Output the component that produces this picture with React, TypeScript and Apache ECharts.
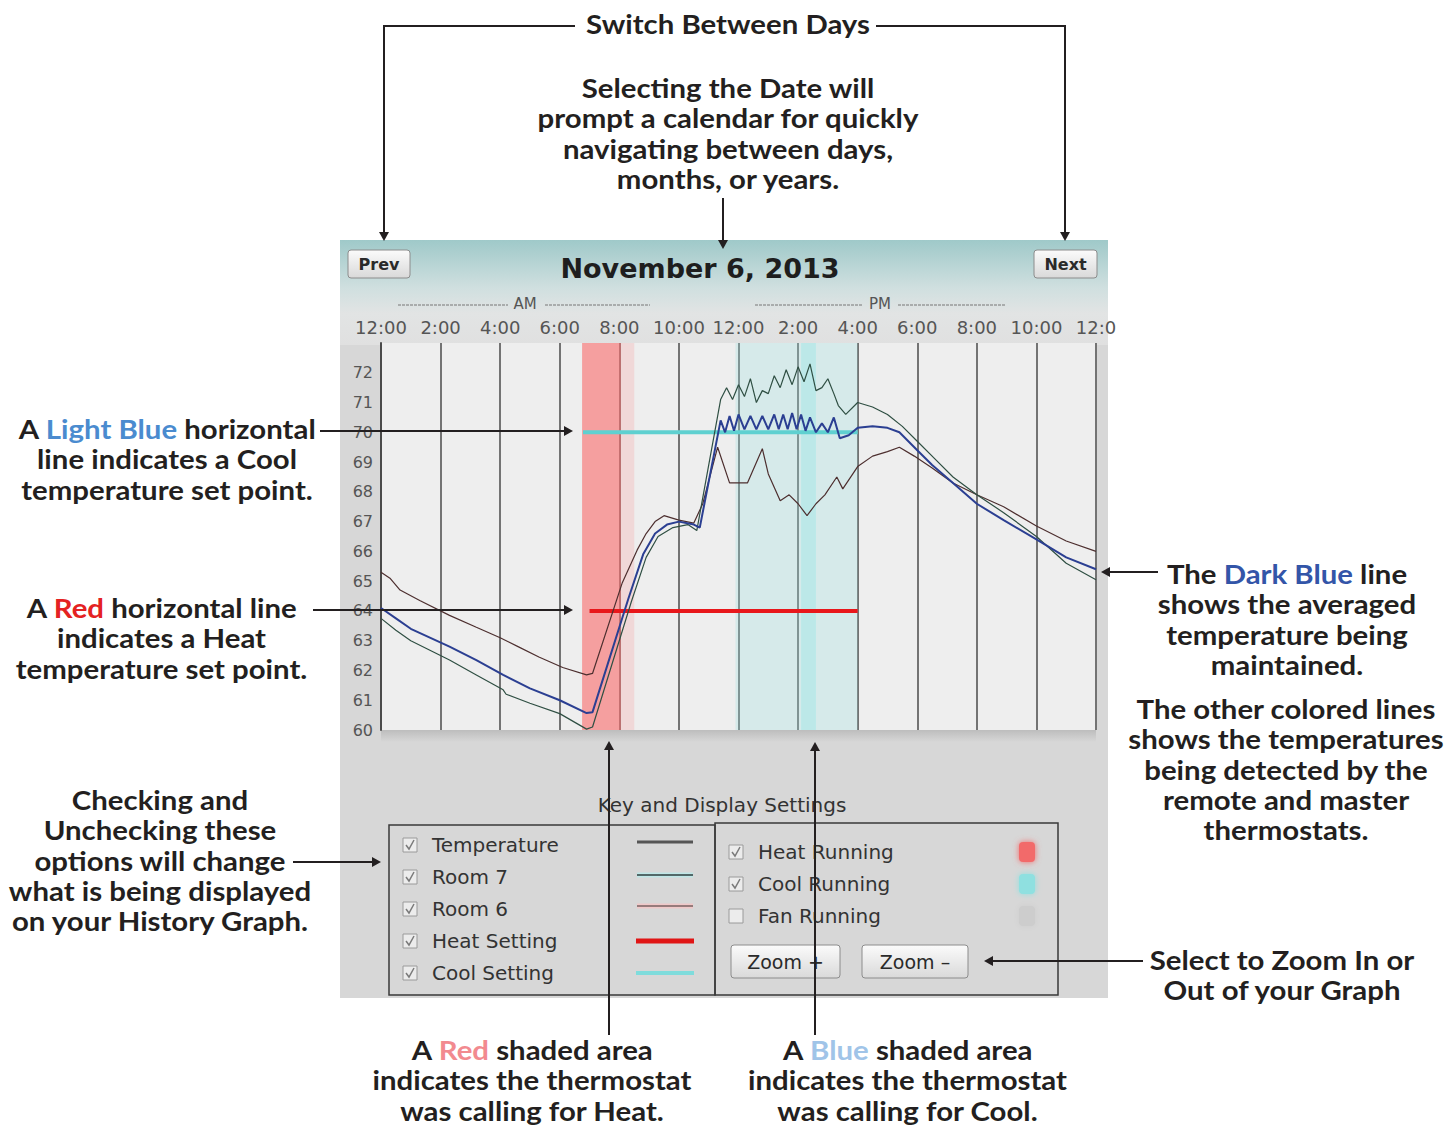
import React, { useEffect, useRef } from 'react';
import * as echarts from 'echarts';

// ---------- data ----------
const xTickLabels = ['12:00', '2:00', '4:00', '6:00', '8:00', '10:00', '12:00', '2:00', '4:00', '6:00', '8:00', '10:00', '12:0'];

const room6Hours = [0, 0.3, 0.64, 1.3, 2.3, 3.2, 4.0, 4.6, 5.3, 6.1, 6.9, 7.1, 8.1, 8.6, 8.9, 9.2, 9.5, 10.0, 10.5, 10.8, 11.3, 11.7, 12.3, 12.8, 13.0, 13.4, 13.7, 14.0, 14.3, 14.6, 14.9, 15.3, 15.5, 16.0, 16.5, 17.0, 17.4, 17.9, 18.5, 19.2, 20.0, 20.9, 22.0, 23.0, 24.0];
const room6Temps = [65.3, 65.1, 64.7, 64.35, 63.85, 63.45, 63.1, 62.8, 62.45, 62.1, 61.85, 61.9, 64.95, 66.05, 66.6, 67.0, 67.2, 67.05, 66.95, 67.6, 69.5, 68.3, 68.3, 69.45, 68.6, 67.7, 67.9, 67.6, 67.2, 67.6, 67.9, 68.5, 68.1, 68.85, 69.2, 69.35, 69.5, 69.2, 68.8, 68.3, 67.9, 67.5, 66.85, 66.35, 66.0];

const avgHours = [0, 0.5, 1.0, 2.3, 3.2, 4.1, 5.0, 6.0, 6.9, 7.1, 8.3, 8.8, 9.2, 9.6, 10.0, 10.5, 10.7, 11.4, 11.55, 11.7, 11.85, 12.0, 12.2, 12.4, 12.6, 12.8, 13.0, 13.2, 13.35, 13.5, 13.65, 13.8, 13.95, 14.1, 14.25, 14.4, 14.6, 14.8, 15.0, 15.2, 15.4, 15.7, 16.0, 16.5, 17.0, 17.4, 18.0, 18.5, 19.2, 20.0, 20.9, 22.0, 23.0, 24.0];
const avgTemps = [64.1, 63.75, 63.4, 62.8, 62.35, 61.85, 61.4, 61.0, 60.57, 60.6, 64.4, 65.9, 66.6, 66.9, 67.0, 66.9, 66.8, 70.4, 70.0, 70.55, 70.05, 70.6, 70.1, 70.55, 70.1, 70.55, 70.1, 70.6, 70.1, 70.6, 70.1, 70.65, 70.1, 70.6, 70.05, 70.5, 70.0, 70.3, 70.0, 70.5, 69.8, 69.9, 70.15, 70.2, 70.15, 70.0, 69.4, 68.9, 68.3, 67.6, 67.05, 66.4, 65.8, 65.4];

const room7Hours = [0, 0.5, 1.0, 2.3, 3.2, 4.1, 4.2, 5.0, 6.0, 6.9, 7.1, 8.4, 8.9, 9.3, 9.8, 10.3, 10.6, 11.4, 11.6, 11.8, 12.0, 12.2, 12.4, 12.6, 12.8, 13.0, 13.2, 13.4, 13.6, 13.8, 14.0, 14.2, 14.4, 14.6, 14.8, 15.0, 15.2, 15.35, 15.6, 16.0, 16.5, 17.0, 17.5, 18.0, 18.6, 19.2, 20.0, 20.9, 22.0, 23.0, 24.0];
const room7Temps = [63.75, 63.35, 63.0, 62.35, 61.85, 61.35, 61.2, 60.9, 60.55, 60.03, 60.1, 64.3, 65.8, 66.5, 66.8, 66.9, 66.7, 71.1, 71.5, 71.1, 71.6, 71.2, 71.8, 71.0, 71.4, 71.3, 71.9, 71.5, 72.1, 71.6, 72.2, 71.7, 72.3, 71.4, 71.5, 71.8, 71.3, 70.9, 70.6, 71.0, 70.85, 70.6, 70.2, 69.7, 69.1, 68.5, 67.9, 67.3, 66.5, 65.6, 65.05];

const heatSetHours = [7.0, 16.0];
const heatSetTemps = [64, 64];
const coolSetHours = [6.78, 16.0];
const coolSetTemps = [70, 70];

const heatRunning = [6.75, 8.05];
const heatFade = [8.05, 8.5];
const coolRunning = [11.9, 16.0];
const coolPeak = [14.1, 14.6];

const legendLeft = ['Temperature', 'Room 7', 'Room 6', 'Heat Setting', 'Cool Setting'];
const legendRight = ['Heat Running', 'Cool Running', 'Fan Running'];

// ---------- helpers ----------
const zip = (h: number[], t: number[]) => h.map((x, i) => [x, t[i]]);
const INK = '#231f20';
const ANN_FONT = 'Lato';
const ANN_SIZE = 26;
const ANN_LH = 30.3;
const ANN_STRETCH = 1.13;
const annStyle = (fill: string) => ({ fill, fontSize: ANN_SIZE, fontFamily: ANN_FONT, fontWeight: 'bold', lineHeight: ANN_LH });

function annText(x: number, yTop: number, text: string, rich: any = {}) {
  return {
    type: 'text', x, y: yTop, z: 100, silent: true, scaleX: ANN_STRETCH,
    style: {
      text, rich,
      fill: INK, fontSize: ANN_SIZE, fontFamily: ANN_FONT, fontWeight: 'bold', lineHeight: ANN_LH,
      align: 'center', textAlign: 'center', verticalAlign: 'top', textVerticalAlign: 'top',
    },
  };
}
function seg(pts: number[][]) {
  return { type: 'polyline', z: 100, silent: true, shape: { points: pts }, style: { stroke: INK, lineWidth: 2, fill: null } };
}
function arrow(tipX: number, tipY: number, dir: 'up' | 'down' | 'left' | 'right') {
  const L = 9, W = 5;
  let pts: number[][];
  if (dir === 'down') pts = [[tipX, tipY], [tipX - W, tipY - L], [tipX + W, tipY - L]];
  else if (dir === 'up') pts = [[tipX, tipY], [tipX - W, tipY + L], [tipX + W, tipY + L]];
  else if (dir === 'right') pts = [[tipX, tipY], [tipX - L, tipY - W], [tipX - L, tipY + W]];
  else pts = [[tipX, tipY], [tipX + L, tipY - W], [tipX + L, tipY + W]];
  return { type: 'polygon', z: 100, silent: true, shape: { points: pts }, style: { fill: INK } };
}
const UI_FONT = 'DejaVu Sans';
function uiText(x: number, y: number, text: string, size: number, opts: any = {}) {
  return {
    type: 'text', x, y, z: 5, silent: true,
    style: {
      text, fill: opts.fill || '#3a3a3a', fontSize: size, fontFamily: UI_FONT, fontWeight: opts.bold ? 'bold' : 'normal',
      align: opts.align || 'left', textAlign: opts.align || 'left', verticalAlign: 'middle', textVerticalAlign: 'middle',
    },
  };
}
function checkbox(x: number, yc: number, checked: boolean) {
  const els: any[] = [{
    type: 'rect', z: 5, silent: true, shape: { x, y: yc - 7, width: 14, height: 14 },
    style: { fill: '#ececec', stroke: '#9a9a9a', lineWidth: 1 },
  }];
  if (checked) els.push({
    type: 'polyline', z: 6, silent: true, shape: { points: [[x + 3, yc], [x + 6, yc + 4], [x + 11, yc - 5]] },
    style: { stroke: '#7a7a7a', lineWidth: 1.5, fill: null },
  });
  return els;
}
function button(x: number, y: number, w: number, h: number, label: string, size: number, bold = false) {
  return [
    {
      type: 'rect', z: 5, silent: true, shape: { x, y, width: w, height: h, r: 3 },
      style: {
        fill: new echarts.graphic.LinearGradient(0, 0, 0, 1, [{ offset: 0, color: '#fbfbfb' }, { offset: 1, color: '#d9d9d9' }]),
        stroke: '#8c8c8c', lineWidth: 1,
      },
    },
    uiText(x + w / 2, y + h / 2, label, size, { align: 'center', bold, fill: '#2a2a2a' }),
  ];
}

export default function App() {
  const ref = useRef<HTMLDivElement>(null);
  useEffect(() => {
    document.body.style.margin = '0';
    const chart = echarts.init(ref.current!, undefined, { renderer: 'svg' });

    const gridL = 381, gridT = 343, gridW = 715, gridH = 387;

    const graphics: any[] = [
      // panel background
      { type: 'rect', z: -10, silent: true, shape: { x: 340, y: 240, width: 768, height: 758 }, style: { fill: '#d7d7d7' } },
      {
        type: 'rect', z: -9, silent: true, shape: { x: 340, y: 240, width: 768, height: 105 },
        style: {
          fill: new echarts.graphic.LinearGradient(0, 0, 0, 1, [
            { offset: 0, color: '#9fc9c9' }, { offset: 0.45, color: '#cfdfdf' }, { offset: 0.7, color: '#e2e4e4' }, { offset: 1, color: '#e0e0e0' },
          ]),
        },
      },
      // plot background
      { type: 'rect', z: -8, silent: true, shape: { x: gridL, y: gridT, width: gridW, height: gridH }, style: { fill: '#eeeeee' } },
      {
        type: 'rect', z: -8, silent: true, shape: { x: gridL, y: gridT + gridH, width: gridW, height: 12 },
        style: { fill: new echarts.graphic.LinearGradient(0, 0, 0, 1, [{ offset: 0, color: '#bdbdbd' }, { offset: 1, color: '#d7d7d7' }]) },
      },
      // header
      ...button(348, 250, 62, 28, 'Prev', 16, true),
      ...button(1034, 250, 63, 28, 'Next', 16, true),
      uiText(700, 268, 'November 6, 2013', 27, { align: 'center', bold: true, fill: '#1e1e1e' }),
      uiText(525, 304, 'AM', 15, { align: 'center', fill: '#555' }),
      uiText(880, 304, 'PM', 15, { align: 'center', fill: '#555' }),
      { type: 'line', z: 5, silent: true, shape: { x1: 398, y1: 305, x2: 508, y2: 305 }, style: { stroke: '#777', lineWidth: 1, lineDash: [3, 1] } },
      { type: 'line', z: 5, silent: true, shape: { x1: 545, y1: 305, x2: 650, y2: 305 }, style: { stroke: '#777', lineWidth: 1, lineDash: [3, 1] } },
      { type: 'line', z: 5, silent: true, shape: { x1: 755, y1: 305, x2: 862, y2: 305 }, style: { stroke: '#777', lineWidth: 1, lineDash: [3, 1] } },
      { type: 'line', z: 5, silent: true, shape: { x1: 898, y1: 305, x2: 1005, y2: 305 }, style: { stroke: '#777', lineWidth: 1, lineDash: [3, 1] } },
      // key and display settings
      uiText(722, 805, 'Key and Display Settings', 20, { align: 'center', fill: '#333' }),
      { type: 'rect', z: 5, silent: true, shape: { x: 389, y: 825, width: 326, height: 170 }, style: { fill: null, stroke: '#3a3a3a', lineWidth: 1.5 } },
      { type: 'rect', z: 5, silent: true, shape: { x: 715, y: 823, width: 343, height: 172 }, style: { fill: null, stroke: '#3a3a3a', lineWidth: 1.5 } },
    ];

    const leftY = [845, 877, 909, 941, 973];
    legendLeft.forEach((name, i) => {
      graphics.push(...checkbox(403, leftY[i], true));
      graphics.push(uiText(432, leftY[i], name, 20, { fill: '#333' }));
    });
    // legend samples
    graphics.push(
      { type: 'line', z: 5, silent: true, shape: { x1: 637, y1: 842, x2: 693, y2: 842 }, style: { stroke: '#555', lineWidth: 3 } },
      { type: 'line', z: 5, silent: true, shape: { x1: 637, y1: 875, x2: 693, y2: 875 }, style: { stroke: '#bfe6e6', lineWidth: 5 } },
      { type: 'line', z: 6, silent: true, shape: { x1: 637, y1: 875, x2: 693, y2: 875 }, style: { stroke: '#2e3e3e', lineWidth: 1.5 } },
      { type: 'line', z: 5, silent: true, shape: { x1: 637, y1: 906, x2: 693, y2: 906 }, style: { stroke: '#f0c8c8', lineWidth: 5 } },
      { type: 'line', z: 6, silent: true, shape: { x1: 637, y1: 906, x2: 693, y2: 906 }, style: { stroke: '#3e2e2e', lineWidth: 1.2 } },
      { type: 'line', z: 5, silent: true, shape: { x1: 636, y1: 941, x2: 694, y2: 941 }, style: { stroke: '#e01515', lineWidth: 5 } },
      { type: 'line', z: 5, silent: true, shape: { x1: 636, y1: 973, x2: 694, y2: 973 }, style: { stroke: '#7fdcdc', lineWidth: 4 } },
    );
    const rightY = [852, 884, 916];
    const swatch = ['#f26b6b', '#8fe0e0', '#cdcdcd'];
    legendRight.forEach((name, i) => {
      graphics.push(...checkbox(729, rightY[i], i < 2));
      graphics.push(uiText(758, rightY[i], name, 20, { fill: '#333' }));
      graphics.push({
        type: 'rect', z: 5, silent: true, shape: { x: 1019, y: rightY[i] - 10, width: 16, height: 20, r: 4 },
        style: { fill: swatch[i], shadowBlur: 6, shadowColor: swatch[i] },
      });
    });
    graphics.push(...button(731, 945, 109, 33, 'Zoom +', 19));
    graphics.push(...button(862, 945, 106, 33, 'Zoom \u2013', 19));

    // annotations
    graphics.push(
      annText(728, 9, 'Switch Between Days'),
      seg([[575, 26], [384, 26], [384, 232]]), arrow(384, 241, 'down'),
      seg([[876, 26], [1065, 26], [1065, 232]]), arrow(1065, 241, 'down'),
      annText(728, 73, 'Selecting the Date will\nprompt a calendar for quickly\nnavigating between days,\nmonths, or years.'),
      seg([[723, 198], [723, 240]]), arrow(723, 249, 'down'),
      annText(167, 414, 'A {c|Light Blue} horizontal\nline indicates a Cool\ntemperature set point.', { c: annStyle('#4a8bcf') }),
      seg([[320, 431], [564, 431]]), arrow(573, 431, 'right'),
      annText(161.5, 593, 'A {c|Red} horizontal line\nindicates a Heat\ntemperature set point.', { c: annStyle('#e42222') }),
      seg([[313, 610], [564, 610]]), arrow(573, 610, 'right'),
      annText(1287, 559, 'The {c|Dark Blue} line\nshows the averaged\ntemperature being\nmaintained.', { c: annStyle('#3355a8') }),
      seg([[1158, 572], [1110, 572]]), arrow(1101, 572, 'left'),
      annText(1286, 694, 'The other colored lines\nshows the temperatures\nbeing detected by the\nremote and master\nthermostats.'),
      annText(160, 785, 'Checking and\nUnchecking these\noptions will change\nwhat is being displayed\non your History Graph.'),
      seg([[293, 862], [372, 862]]), arrow(381, 862, 'right'),
      annText(1282, 945, 'Select to Zoom In or\nOut of your Graph'),
      seg([[1143, 961], [993, 961]]), arrow(984, 961, 'left'),
      annText(532, 1035, 'A {c|Red} shaded area\nindicates the thermostat\nwas calling for Heat.', { c: annStyle('#f28a8f') }),
      seg([[609, 1035], [609, 750]]), arrow(609, 741, 'up'),
      annText(907.5, 1035, 'A {c|Blue} shaded area\nindicates the thermostat\nwas calling for Cool.', { c: annStyle('#a0c4e8') }),
      seg([[815, 1035], [815, 751]]), arrow(815, 742, 'up'),
    );

    const thin = (color: string, width: number) => ({ color, width });

    chart.setOption({
      animation: false,
      backgroundColor: '#ffffff',
      grid: { left: gridL, top: gridT, width: gridW, height: gridH, show: false },
      xAxis: {
        type: 'value', position: 'top', min: 0, max: 24, interval: 2,
        axisLine: { show: false }, axisTick: { show: false },
        axisLabel: {
          margin: 7, color: '#555', fontSize: 18, fontFamily: UI_FONT,
          formatter: (v: number) => xTickLabels[Math.round(v / 2)] ?? '',
        },
        splitLine: { show: true, lineStyle: { color: '#737373', width: 2 } },
      },
      yAxis: {
        type: 'value', min: 60, max: 73, interval: 1,
        axisLine: { show: true, lineStyle: { color: '#4a4a4a', width: 2 } },
        axisTick: { show: false },
        axisLabel: {
          margin: 8, color: '#555', fontSize: 16, fontFamily: UI_FONT,
          formatter: (v: number) => (v >= 73 ? '' : String(v)),
        },
        splitLine: { show: false },
      },
      graphic: { elements: graphics },
      series: [
        {
          name: 'Running', type: 'line', data: [], z: 1, silent: true,
          markArea: {
            silent: true,
            data: [
              [{ xAxis: heatRunning[0], itemStyle: { color: 'rgba(248,110,110,0.62)' } }, { xAxis: heatRunning[1] }],
              [{ xAxis: heatFade[0], itemStyle: { color: 'rgba(248,150,150,0.25)' } }, { xAxis: heatFade[1] }],
              [{ xAxis: coolRunning[0], itemStyle: { color: 'rgba(160,225,225,0.3)' } }, { xAxis: coolRunning[1] }],
              [{ xAxis: coolPeak[0], itemStyle: { color: 'rgba(150,230,230,0.4)' } }, { xAxis: coolPeak[1] }],
            ],
          },
        },
        {
          name: 'Cool Setting', type: 'line', data: zip(coolSetHours, coolSetTemps), showSymbol: false, z: 2,
          lineStyle: thin('#5fd0d0', 4), silent: true,
        },
        {
          name: 'Heat Setting', type: 'line', data: zip(heatSetHours, heatSetTemps), showSymbol: false, z: 2,
          lineStyle: thin('#e8171b', 4), silent: true,
        },
        {
          name: 'Room 6', type: 'line', data: zip(room6Hours, room6Temps), showSymbol: false, z: 3,
          lineStyle: thin('#4d2f2f', 1.2), silent: true,
        },
        {
          name: 'Room 7', type: 'line', data: zip(room7Hours, room7Temps), showSymbol: false, z: 3,
          lineStyle: thin('#2f4f43', 1.2), silent: true,
        },
        {
          name: 'Temperature', type: 'line', data: zip(avgHours, avgTemps), showSymbol: false, z: 4,
          lineStyle: thin('#2b3f92', 2), silent: true,
        },
      ],
    });
    return () => chart.dispose();
  }, []);
  return <div ref={ref} style={{ width: 1449, height: 1127 }} />;
}
